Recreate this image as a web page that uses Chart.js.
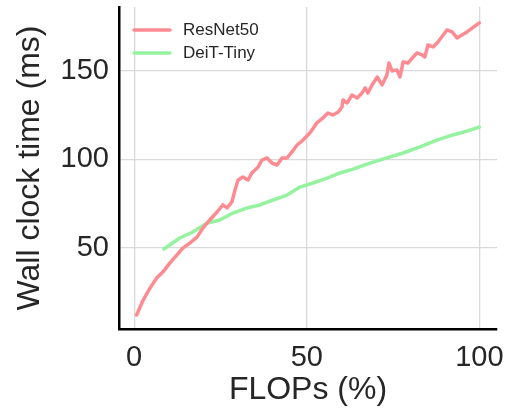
<!DOCTYPE html>
<html>
<head>
<meta charset="utf-8">
<script src="https://cdn.jsdelivr.net/npm/chart.js@4.4.1/dist/chart.umd.min.js"></script>
<style>
  html, body { margin: 0; padding: 0; background: #fff; }
</style>
</head>
<body>
<canvas id="chart" width="507" height="414"></canvas>
<script>
// values
const resnetX = [0.7, 2.6, 4.6, 6.5, 8.3, 10.3, 12.4, 14.1, 16.1, 18.2, 19.9, 21.9, 24.0, 25.7, 26.9, 28.3, 29.2, 30.1, 31.5, 33.0,
  34.1, 35.9, 37.0, 38.5, 39.9, 41.4, 42.8, 44.3, 45.7, 47.2, 48.9, 50.9, 52.9, 54.7, 56.1, 57.6, 59.1, 60.2, 60.5, 61.7,
  63.1, 64.6, 66.0, 66.9, 67.7, 68.9, 70.4, 71.8, 73.2, 73.8, 74.7, 76.1, 77.0, 77.9, 79.3, 81.9, 83.4, 84.2, 85.1, 86.6,
  88.0, 90.6, 92.1, 93.5, 96.4, 100];
const resnetY = [11.9, 20.4, 27.2, 32.8, 36.2, 41.3, 45.9, 49.8, 52.6, 56.0, 61.1, 65.7, 70.2, 74.2, 72.5, 75.9, 82.6, 88.3, 90.0, 88.3,
  92.3, 95.7, 99.6, 100.8, 97.9, 96.8, 100.8, 100.8, 104.2, 108.1, 110.9, 114.9, 120.6, 123.4, 126.2, 125.1, 126.8, 129.6, 133.6, 131.9,
  136.4, 134.7, 137.5, 140.4, 137.5, 142.1, 146.6, 142.1, 147.7, 154.5, 150.0, 150.6, 146.6, 155.1, 154.5, 160.2, 159.1, 157.9, 164.7, 163.6,
  166.4, 173.2, 172.1, 168.7, 172.1, 177.2];
const deitX = [8.6, 13.2, 17.0, 21.1, 24.8, 28.6, 32.7, 36.4, 40.2, 44.3, 48.0, 51.8, 55.9, 59.6, 63.4, 68.3, 73.2, 77.9, 82.8, 87.7,
  92.3, 96.4, 100];
const deitY = [49.3, 55.5, 58.9, 64.0, 65.7, 69.6, 72.5, 74.2, 77.0, 79.8, 84.3, 86.6, 89.4, 92.3, 94.5, 97.9, 100.8, 103.6, 107.0, 110.9,
  113.8, 116.0, 118.3];
const seriesNames = ['ResNet50', 'DeiT-Tiny'];
const xTicks = [0, 50, 100];
const yTicks = [50, 100, 150];

const FONT = "'Liberation Sans', Arial, sans-serif";
const TEXT = '#262626';
const colors = ['#ff8b92', '#95f3a0'];

function toPoints(xs, ys) {
  return xs.map((x, i) => ({ x: x, y: ys[i] }));
}

// legend drawn inside the plot, top-left, no frame
const innerLegend = {
  id: 'innerLegend',
  afterDraw(chart) {
    const ctx = chart.ctx;
    ctx.save();
    chart.data.datasets.forEach((ds, i) => {
      const y = 30 + i * 23;
      ctx.strokeStyle = ds.borderColor;
      ctx.lineWidth = 3.5;
      ctx.lineCap = 'round';
      ctx.beginPath();
      ctx.moveTo(134, y);
      ctx.lineTo(170, y);
      ctx.stroke();
      ctx.fillStyle = TEXT;
      ctx.font = '17px ' + FONT;
      ctx.textBaseline = 'middle';
      ctx.fillText(ds.label, 183, y);
    });
    ctx.restore();
  }
};

new Chart(document.getElementById('chart'), {
  type: 'line',
  data: {
    datasets: [
      { label: seriesNames[0], data: toPoints(resnetX, resnetY), borderColor: colors[0] },
      { label: seriesNames[1], data: toPoints(deitX, deitY), borderColor: colors[1] }
    ]
  },
  options: {
    responsive: false,
    animation: false,
    layout: { padding: { left: 0, right: 10, top: 7, bottom: 0 } },
    elements: {
      point: { radius: 0 },
      line: { borderWidth: 3.5, tension: 0, borderJoinStyle: 'round', borderCapStyle: 'round', fill: false }
    },
    plugins: { legend: { display: false }, tooltip: { enabled: false } },
    scales: {
      x: {
        type: 'linear',
        min: -4.4,
        max: 105.1,
        afterBuildTicks: s => { s.ticks = xTicks.map(v => ({ value: v })); },
        afterFit: s => { s.height = 85; s.paddingLeft = 0; s.paddingRight = 0; },
        grid: { color: '#d9d9d9', lineWidth: 1.3, drawTicks: false },
        border: { color: '#000', width: 2.5 },
        ticks: { color: TEXT, font: { family: FONT, size: 29 }, padding: 12, maxRotation: 0 },
        title: { display: true, text: 'FLOPs (%)', color: TEXT, font: { family: FONT, size: 32 }, padding: { top: 0, bottom: 5 } }
      },
      y: {
        type: 'linear',
        min: 4.0,
        max: 186.2,
        afterBuildTicks: s => { s.ticks = yTicks.map(v => ({ value: v })); },
        afterFit: s => { s.width = 119; s.paddingTop = 0; s.paddingBottom = 0; },
        grid: { color: '#d9d9d9', lineWidth: 1.3, drawTicks: false },
        border: { color: '#000', width: 2.5 },
        ticks: { color: TEXT, font: { family: FONT, size: 29 }, padding: 10 },
        title: { display: true, text: 'Wall clock time (ms)', color: TEXT, font: { family: FONT, size: 32 }, padding: { top: 11, bottom: 0 } }
      }
    }
  },
  plugins: [innerLegend]
});
</script>
</body>
</html>
